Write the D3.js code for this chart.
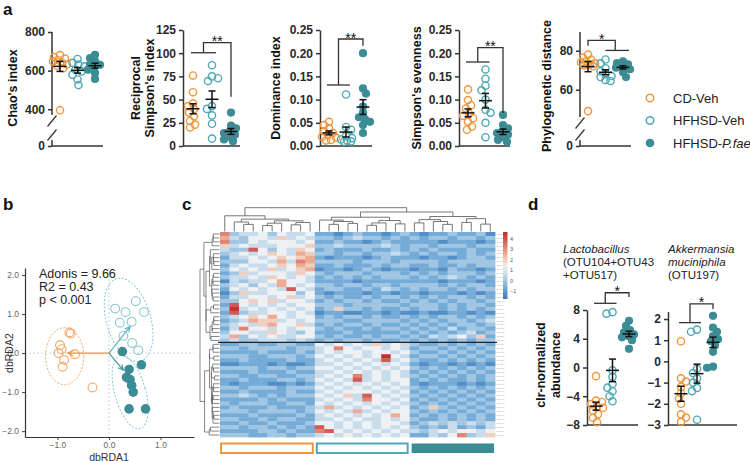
<!DOCTYPE html>
<html>
<head>
<meta charset="utf-8">
<script src="https://cdn.jsdelivr.net/npm/d3@7"></script>
<style>
body { margin: 0; background: #fff; }
svg text { font-family: "Liberation Sans", Arial, sans-serif; }
</style>
</head>
<body>
<svg width="750" height="461"></svg>
<script>
// ---------- data ----------
var groups = ["CD-Veh", "HFHSD-Veh", "HFHSD-P.fae"];

// panel a: alpha diversity (CD-Veh, HFHSD-Veh, HFHSD-P.fae)
var chaoVals = [
    [680, 670, 662, 655, 648, 640, 632, 625, 612, 395],
    [660, 640, 631, 622, 605, 596, 579, 554, 525],
    [682, 665, 648, 631, 630, 622, 605, 588, 557]
];
var recipVals = [
    [76, 58, 46, 43, 40, 36, 32, 27, 23, 20],
    [87, 75, 73, 70, 43, 40, 33, 24, 8],
    [36, 22, 19, 16, 14, 12, 10, 7, 5]
];
var domVals = [
    [0.052, 0.045, 0.038, 0.032, 0.028, 0.024, 0.020, 0.018, 0.013, 0.012],
    [0.111, 0.041, 0.035, 0.022, 0.017, 0.014, 0.012, 0.010, 0.009],
    [0.200, 0.124, 0.113, 0.085, 0.072, 0.062, 0.058, 0.052, 0.045, 0.028]
];
var evenVals = [
    [0.122, 0.099, 0.088, 0.081, 0.070, 0.065, 0.060, 0.052, 0.042, 0.035],
    [0.165, 0.145, 0.130, 0.120, 0.100, 0.078, 0.072, 0.050, 0.019],
    [0.067, 0.045, 0.038, 0.032, 0.028, 0.025, 0.019, 0.013, 0.009]
];
var phyloVals = [
    [78, 76.5, 75.5, 74.5, 74, 73.5, 73, 72.5, 72, 49],
    [75.5, 73.5, 71, 69.5, 68, 67, 66.5, 65, 64.5],
    [74.5, 73.7, 73, 72.5, 72, 71.3, 70.5, 69, 66.5]
];

// panel b: dbRDA scores
var cdPts = [[-0.77, 0.53], [-0.74, 0.50], [-0.95, 0.20], [-0.92, 0.10], [-0.98, 0.00],
             [-0.87, -0.18], [-0.66, -0.03], [-0.90, -0.35], [-0.32, -0.88]];
var vehPts = [[0.12, 1.14], [0.32, 1.05], [0.52, 1.33], [0.68, 1.05], [0.21, 0.78],
              [0.44, 0.80], [0.28, 0.44], [0.45, 0.26], [0.57, 0.07]];
var pfaePts = [[0.26, 0.04], [0.63, -0.30], [0.39, -0.42], [0.34, -0.62], [0.41, -0.68],
               [0.44, -0.83], [0.47, -1.00], [0.39, -1.43], [0.71, -1.43]];
var arrowEnds = [[-0.80, 0.00], [0.41, 0.68], [0.28, -0.44]];
// group ellipses: centre, semi-axes (data units), tilt (deg)
var ellipses = [
    {cx: -0.86, cy: -0.08, rx: 0.37, ry: 0.73, angle: 0},
    {cx: 0.38, cy: 0.85, rx: 0.43, ry: 1.10, angle: -16},
    {cx: 0.41, cy: -1.00, rx: 0.30, ry: 0.97, angle: -15.5}
];
var statLines = ["Adonis = 9.66", "R2 = 0.43", "p < 0.001"];

// panel c: scaled abundance, one string per OTU row, one digit per sample
// digit d -> value -1.3 + 0.65*d ; blocks: CD-Veh | HFHSD-Veh | HFHSD-P.fae
var heatTop = [
    "7233424334 1101211012 101121120",
    "6324435343 2212322121 212212212",
    "7224344434 1121101211 111011101",
    "5343334445 2232222321 221222122",
    "3228424354 1211121121 212111211",
    "2343454365 2212212232 121221212",
    "1334345456 1011101211 101101221",
    "2224436376 2222122212 222122222",
    "1343345465 1121112122 112112122",
    "2434353456 0110121011 011021101",
    "1253444354 2122212221 212122212",
    "2334354343 1212121222 121232121",
    "0323346443 1111011111 111011101",
    "2342436434 2212212212 222121221",
    "1434343843 1221121321 212212122",
    "0253344424 1011101101 101110101",
    "1334434534 2121121221 212122121",
    "2245453443 1212212112 121212212",
    "1843434344 2221222221 222121221",
    "2934343434 1252212112 122121212",
    "1823344343 0110011010 010011010",
    "2345464344 1212212112 121221212",
    "1236553434 2221122221 212122123",
    "2343564453 1212212112 121212212",
    "1374434344 2121121221 212131221",
    "2443354324 1112111112 121212312",
    "3624343344 2121121221 213234251",
    "2322333232 1212212112 121212122"
];
var heatBottom = [
    "1122112211 4343435343 211212121",
    "2212222122 3474344343 122121212",
    "1111211121 3434434434 211212121",
    "2221122212 4343434943 122121212",
    "1121111211 3434343834 211212121",
    "0011101001 3343434343 101101010",
    "2222122122 4434343434 212121212",
    "1112111211 3343434343 121212121",
    "2211221122 3434734343 212121212",
    "1121112212 4343834344 121211212",
    "1011100101 3434343434 101110101",
    "2212221222 4343434343 212121212",
    "1121111211 3434443434 121212121",
    "2232121222 4345384343 212121212",
    "1111212111 3434374434 121212121",
    "2122211221 4343434343 212121212",
    "1211121112 3634343434 125212121",
    "2221222212 4343634344 212121212",
    "1112111121 3434343464 121212121",
    "2211212211 3343433434 211212121",
    "1121121112 4434343443 123232323",
    "2212212121 8434343434 212131213",
    "1111221211 7843434343 323434434",
    "2221122122 3434343434 113247235"
];
// column dendrogram: [height, left, right], leaves are sample indices
var colTree = [10,
    [6.6, 0, [5.2, [4, 1, [3, 2, 3]], [4.5, [3.5, [2.5, 4, 5], 6], [3.8, [2.8, 7, 8], 9]]]],
    [8.2,
        [6, [4.8, 10, [4.2, [3, 11, 12], [3.4, 13, 14]]], [4.6, [3.6, [2.6, 15, 16], 17], [3.2, 18, 19]]],
        [6.3, [5, [3.6, 20, 21], [4.2, 22, [3, 23, 24]]], [5.4, [3.8, 25, 26], [3.1, 27, 28]]]]];
var colorbarTicks = [4, 3, 2, 1, 0, -1];

// panel d: clr-normalized abundance
var lactoVals = [
    [-1.2, -4.6, -4.8, -5.1, -5.4, -5.6, -6.0, -6.5, -7.0, -7.6],
    [7.7, 7.5, -0.4, -1.3, -2.3, -2.8, -3.3, -4.0, -4.7],
    [6.5, 5.8, 5.2, 4.9, 4.6, 4.4, 4.2, 3.8, 2.6]
];
var akkVals = [
    [0.95, -0.8, -0.95, -1.2, -1.5, -1.75, -2.0, -2.5, -2.65, -2.85],
    [1.5, 1.4, -0.35, -0.55, -0.8, -1.0, -1.25, -1.4, -2.75],
    [2.15, 1.6, 1.4, 1.2, 1.05, 0.95, 0.75, 0.45, -0.25, -0.3]
];

// ---------- setup ----------
var svg = d3.select("svg");
var colors = ["#F0963C", "#4EA8B4", "#3B8C94"];
var lightColors = ["#F3A766", "#86C9D1", "#3B8C94"];
var ink = "#2a2a2a";

// panel letters
[["a", 3, 15], ["b", 3, 210], ["c", 182, 210], ["d", 528, 210]].forEach(function(p) {
    svg.append("text").attr("x", p[1]).attr("y", p[2]).text(p[0])
        .attr("font-size", 17).attr("font-weight", "bold").attr("fill", "#111");
});

// simple deterministic beeswarm: place points top-down, nudge sideways on collision,
// keeping them inside a narrow band around the group centre
function swarm(pys, cx, minD, maxOff) {
    var placed = [];
    pys.slice().sort(function(a, b) { return a - b; }).forEach(function(py) {
        var offs = [0];
        var sgn = placed.length % 2 ? -1 : 1;
        for (var k = 1; k <= maxOff; k++) { offs.push(sgn * k, -sgn * k); }
        var bestX = cx, bestD = -1;
        for (var j = 0; j < offs.length; j++) {
            var x = cx + offs[j];
            var dmin = d3.min(placed, function(q) { return Math.hypot(q.x - x, q.y - py); });
            if (dmin === undefined || dmin >= minD) { bestX = x; bestD = Infinity; break; }
            if (dmin > bestD) { bestD = dmin; bestX = x; }
        }
        placed.push({x: bestX, y: py});
    });
    return placed;
}

function drawDotPlot(cfg) {
    var g = svg.append("g");
    var y = d3.scaleLinear().domain(cfg.dom).range(cfg.rng);
    var gx = d3.scalePoint().domain([0, 1, 2]).range([cfg.ax + cfg.gx[0], cfg.ax + cfg.gx[1]]);
    var yBase = cfg.rng[0];

    // y axis
    var axis = d3.axisLeft(y).tickValues(cfg.ticks).tickFormat(cfg.fmt).tickSize(4).tickSizeOuter(0);
    var ag = g.append("g").attr("transform", "translate(" + cfg.ax + ",0)").call(axis);
    ag.attr("font-size", 12).attr("font-weight", "bold").attr("font-family", null);
    ag.selectAll("text").attr("fill", ink);
    ag.selectAll("line").attr("stroke", "#333").attr("stroke-width", 1.5);
    ag.select(".domain").attr("stroke", "#333").attr("stroke-width", 1.5);
    if (cfg.brk) {
        // broken axis: two segments and slashes
        ag.select(".domain").remove();
        g.append("line").attr("x1", cfg.ax).attr("x2", cfg.ax).attr("y1", cfg.rng[cfg.rng.length - 1]).attr("y2", cfg.brk[0])
            .attr("stroke", "#333").attr("stroke-width", 1.5);
        g.append("line").attr("x1", cfg.ax).attr("x2", cfg.ax).attr("y1", cfg.brk[1]).attr("y2", yBase)
            .attr("stroke", "#333").attr("stroke-width", 1.5);
        [cfg.brk[0] + 6, cfg.brk[1] - 5].forEach(function(m) {
            g.append("line").attr("x1", cfg.ax - 4.5).attr("x2", cfg.ax + 4.5).attr("y1", m + 5.5).attr("y2", m - 5.5)
                .attr("stroke", "#333").attr("stroke-width", 1.2);
        });
    }
    // x axis line
    g.append("line").attr("x1", cfg.ax).attr("x2", cfg.ax + cfg.len).attr("y1", yBase).attr("y2", yBase)
        .attr("stroke", "#333").attr("stroke-width", 1.5);

    // axis title (rotated, one or more lines)
    cfg.title.forEach(function(t, i) {
        g.append("text").attr("transform", "translate(" + cfg.tx[i] + "," + cfg.ty + ") rotate(-90)")
            .attr("text-anchor", "middle").attr("font-size", 12.5).attr("font-weight", "bold")
            .attr("fill", "#111").text(t);
    });

    // points
    cfg.vals.forEach(function(vals, gi) {
        var pts = swarm(vals.map(y), gx(gi), 5.6, 7);
        g.selectAll(null).data(pts).enter().append("circle")
            .attr("cx", function(d) { return d.x; })
            .attr("cy", function(d) { return d.y; })
            .attr("r", gi == 2 ? 4.1 : 3.6)
            .attr("fill", gi == 2 ? colors[2] : "none")
            .attr("stroke", gi == 2 ? "none" : colors[gi])
            .attr("stroke-width", 1.4);
    });

    // mean +- SEM
    cfg.vals.forEach(function(vals, gi) {
        var m = d3.mean(vals), se = d3.deviation(vals) / Math.sqrt(vals.length);
        var cx = gx(gi);
        var eg = g.append("g").attr("stroke", "#111").attr("stroke-width", 1.5);
        eg.append("line").attr("x1", cx - 6.5).attr("x2", cx + 6.5).attr("y1", y(m)).attr("y2", y(m));
        eg.append("line").attr("x1", cx).attr("x2", cx).attr("y1", y(m - se)).attr("y2", y(m + se));
        [m - se, m + se].forEach(function(v) {
            eg.append("line").attr("x1", cx - 3.5).attr("x2", cx + 3.5).attr("y1", y(v)).attr("y2", y(v));
        });
    });

    // significance bracket
    if (cfg.br) {
        var br = cfg.br, x0 = gx(0), x1 = gx(1), x2 = gx(2), mid, far, d;
        if (br.single == 2) {
            mid = (x0 + x1) / 2 + 1; far = x2;
            g.append("line").attr("x1", x0 - 2).attr("x2", x1 + 4).attr("y1", y(br.bar)).attr("y2", y(br.bar))
                .attr("stroke", "#333").attr("stroke-width", 1.3);
        } else {
            mid = (x1 + x2) / 2 + 1; far = x0;
            g.append("line").attr("x1", x1).attr("x2", x2 + 6).attr("y1", y(br.bar)).attr("y2", y(br.bar))
                .attr("stroke", "#333").attr("stroke-width", 1.3);
        }
        d = "M" + mid + "," + y(br.bar) + "V" + y(br.top) + "H" + far + "V" + y(br.end);
        g.append("path").attr("d", d).attr("fill", "none").attr("stroke", "#333").attr("stroke-width", 1.3);
        g.append("text").attr("x", (mid + far) / 2).attr("y", y(br.top) + 3.5)
            .attr("text-anchor", "middle").attr("font-size", 14).attr("fill", "#111").text(br.stars);
    }
}

// ---------- panel a ----------
var aPlots = [
    {ax: 52, len: 51, gx: [8, 43], vals: chaoVals, dom: [0, 1, 370, 800], rng: [146, 140, 115, 32],
     ticks: [0, 400, 600, 800], fmt: d3.format("d"), brk: [115, 140], title: ["Chao's index"], tx: [16.5], ty: 88},
    {ax: 183, len: 57, gx: [10, 48], vals: recipVals, dom: [0, 125], rng: [146, 30],
     ticks: [0, 25, 50, 75, 100, 125], fmt: d3.format("d"), title: ["Reciprocal", "Simpson's index"], tx: [139.5, 153.5], ty: 88,
     br: {single: 2, bar: 100.5, top: 111.3, end: 53, stars: "**"}},
    {ax: 320, len: 52, gx: [9, 43], vals: domVals, dom: [0, 0.25], rng: [146, 30],
     ticks: [0, 0.05, 0.1, 0.15, 0.2, 0.25], fmt: d3.format(".2f"), title: ["Dominance index"], tx: [279.5], ty: 88,
     br: {single: 2, bar: 0.1315, top: 0.2306, end: 0.216, stars: "**"}},
    {ax: 459, len: 51, gx: [9, 44], vals: evenVals, dom: [0, 0.25], rng: [146, 30],
     ticks: [0, 0.05, 0.1, 0.15, 0.2, 0.25], fmt: d3.format(".2f"), title: ["Simpson's evenness"], tx: [421], ty: 88,
     br: {single: 2, bar: 0.181, top: 0.212, end: 0.071, stars: "**"}},
    {ax: 580, len: 51, gx: [8, 43], vals: phyloVals, dom: [0, 1, 46, 89.6], rng: [146, 140, 117, 32],
     ticks: [0, 60, 80], fmt: d3.format("d"), brk: [117, 140], title: ["Phylogenetic distance"], tx: [551], ty: 86,
     br: {single: 0, bar: 80.15, top: 85.3, end: 82.6, stars: "*"}}
];
aPlots.forEach(drawDotPlot);

// legend
var legend = svg.append("g").attr("transform", "translate(650,98)");
groups.forEach(function(name, i) {
    var row = legend.append("g").attr("transform", "translate(0," + (i * 22.5) + ")");
    row.append("circle").attr("r", i == 2 ? 4.3 : 3.8)
        .attr("fill", i == 2 ? colors[2] : "none").attr("stroke", i == 2 ? "none" : colors[i]).attr("stroke-width", 1.5);
    var t = row.append("text").attr("x", 23).attr("y", 4.5).attr("font-size", 13).attr("fill", "#222");
    if (i == 2) {
        t.append("tspan").text("HFHSD-");
        t.append("tspan").attr("font-style", "italic").text("P.fae");
    } else {
        t.text(name);
    }
});

// ---------- panel b ----------
var bg = svg.append("g");
var bx = d3.scaleLinear().domain([-1.63, 1.65]).range([25, 194]);
var by = d3.scaleLinear().domain([-2.15, 2.18]).range([437, 268]);

bg.append("line").attr("x1", bx(0)).attr("x2", bx(0)).attr("y1", 268).attr("y2", 437)
    .attr("stroke", "#C8D8DE").attr("stroke-dasharray", "2,2");
bg.append("line").attr("x1", 25).attr("x2", 194).attr("y1", by(0)).attr("y2", by(0))
    .attr("stroke", "#C8D8DE").attr("stroke-dasharray", "2,2");

var bxAxis = bg.append("g").attr("transform", "translate(0,437)")
    .call(d3.axisBottom(bx).tickValues([-1, 0, 1]).tickSize(3).tickPadding(1.5).tickSizeOuter(0));
var byAxis = bg.append("g").attr("transform", "translate(25,0)")
    .call(d3.axisLeft(by).tickValues([-2, -1, 0, 1, 2]).tickSize(3).tickSizeOuter(0));
[bxAxis, byAxis].forEach(function(a) {
    a.attr("font-size", 8.5).attr("font-family", null);
    a.selectAll("text").attr("fill", "#666");
    a.selectAll("line").attr("stroke", "#444");
    a.select(".domain").attr("stroke", "#333").attr("stroke-width", 1.2);
});
bg.append("text").attr("x", bx(0)).attr("y", 460.5).attr("text-anchor", "middle")
    .attr("font-size", 10.5).attr("fill", "#333").text("dbRDA1");
bg.append("text").attr("transform", "translate(13," + by(0) + ") rotate(-90)").attr("text-anchor", "middle")
    .attr("font-size", 10.5).attr("fill", "#333").text("dbRDA2");

var kx = bx(1) - bx(0), ky = by(0) - by(1);
var ellipseColors = ["#F3A766", "#86C9D1", "#86C9D1"];
ellipses.forEach(function(e, i) {
    bg.append("ellipse")
        .attr("transform", "translate(" + bx(e.cx) + "," + by(e.cy) + ") rotate(" + e.angle + ")")
        .attr("rx", e.rx * kx).attr("ry", e.ry * ky)
        .attr("fill", "none").attr("stroke", ellipseColors[i]).attr("stroke-width", 1)
        .attr("stroke-dasharray", "2,1.6");
});

[cdPts, vehPts, pfaePts].forEach(function(pts, gi) {
    bg.selectAll(null).data(pts).enter().append("circle")
        .attr("cx", function(d) { return bx(d[0]); })
        .attr("cy", function(d) { return by(d[1]); })
        .attr("r", gi == 2 ? 4.8 : 4.4)
        .attr("fill", gi == 2 ? colors[2] : "none")
        .attr("stroke", gi == 2 ? "none" : lightColors[gi])
        .attr("stroke-width", 1.1);
});

var arrowColors = ["#F0963C", "#5FB3BE", "#4E9BA3"];
arrowEnds.forEach(function(p, i) {
    var x0 = bx(0), y0 = by(0), x1 = bx(p[0]), y1 = by(p[1]);
    var ang = Math.atan2(y1 - y0, x1 - x0);
    var head = [ang + Math.PI - 0.45, ang + Math.PI + 0.45].map(function(a) {
        return [x1 + 6 * Math.cos(a), y1 + 6 * Math.sin(a)];
    });
    bg.append("path")
        .attr("d", "M" + x0 + "," + y0 + "L" + x1 + "," + y1 +
            "M" + head[0] + "L" + x1 + "," + y1 + "L" + head[1])
        .attr("fill", "none").attr("stroke", arrowColors[i]).attr("stroke-width", 1.2);
});

statLines.forEach(function(t, i) {
    bg.append("text").attr("x", 39).attr("y", 278 + i * 13).attr("font-size", 12.5).attr("fill", "#222").text(t);
});

// ---------- panel c: heatmap ----------
var cg = svg.append("g");
var heatRows = heatTop.concat(heatBottom).map(function(s) {
    return s.replace(/ /g, "").split("").map(function(c) { return -1.3 + 0.65 * (+c); });
});
var nCol = heatRows[0].length;
var hx = d3.scaleBand().domain(d3.range(nCol)).range([220, 495]);
var hy = d3.scaleBand().domain(d3.range(heatRows.length)).range([232, 437]);
var heatColor = d3.scaleLinear()
    .domain([-1.7, -0.7, 0.2, 1.3, 2.4, 4.7])
    .range(["#3F7DBB", "#72A9D6", "#ADCEE7", "#EEF1F3", "#F2B79E", "#C3272B"])
    .clamp(true);

heatRows.forEach(function(row, ri) {
    cg.selectAll(null).data(row).enter().append("rect")
        .attr("x", function(d, ci) { return hx(ci); })
        .attr("y", hy(ri))
        .attr("width", hx.bandwidth() + 0.4)
        .attr("height", hy.bandwidth() + 0.4)
        .attr("fill", function(d) { return heatColor(d); });
});

// gap line between the two row clusters
cg.append("line").attr("x1", 218).attr("x2", 497)
    .attr("y1", hy(heatTop.length)).attr("y2", hy(heatTop.length))
    .attr("stroke", "#222").attr("stroke-width", 1.3);

// row dendrogram: adjacent-merge clustering of the rows (order kept)
function clusterRows(ids) {
    var nodes = ids.map(function(i) {
        return {y: hy(i) + hy.bandwidth() / 2, h: 0, v: heatRows[i].slice(), n: 1};
    });
    var segs = [];
    while (nodes.length > 1) {
        var best = 0, bd = Infinity;
        for (var k = 0; k < nodes.length - 1; k++) {
            var a0 = nodes[k], b0 = nodes[k + 1];
            var d = Math.sqrt(d3.sum(a0.v, function(x, j) { return (x - b0.v[j]) * (x - b0.v[j]); }));
            d = d * Math.sqrt(2 * a0.n * b0.n / (a0.n + b0.n));
            if (d < bd) { bd = d; best = k; }
        }
        var a = nodes[best], b = nodes[best + 1];
        var h = Math.max(bd, a.h, b.h);
        segs.push({a: a, b: b, h: h});
        var m = {y: (a.y + b.y) / 2, h: h, n: a.n + b.n,
                 v: a.v.map(function(x, j) { return (x * a.n + b.v[j] * b.n) / (a.n + b.n); })};
        nodes.splice(best, 2, m);
    }
    return {root: nodes[0], segs: segs};
}
var topTree = clusterRows(d3.range(0, heatTop.length));
var botTree = clusterRows(d3.range(heatTop.length, heatRows.length));
var rootH = Math.max(topTree.root.h, botTree.root.h) * 1.25;
var allSegs = topTree.segs.concat(botTree.segs, [{a: topTree.root, b: botTree.root, h: rootH}]);
var rx = d3.scaleLinear().domain([0, rootH]).range([219.5, 200]);
cg.selectAll(null).data(allSegs).enter().append("path")
    .attr("d", function(s) {
        return "M" + rx(s.a.h) + "," + s.a.y + "H" + rx(s.h) + "V" + s.b.y + "H" + rx(s.b.h);
    })
    .attr("fill", "none").attr("stroke", "#555").attr("stroke-width", 0.7);

// column dendrogram
var cy = d3.scaleLinear().domain([0, 10]).range([231.5, 207.7]);
function drawCol(node) {
    if (typeof node === "number") return {x: hx(node) + hx.bandwidth() / 2, h: 0};
    var l = drawCol(node[1]), r = drawCol(node[2]);
    cg.append("path")
        .attr("d", "M" + l.x + "," + cy(l.h) + "V" + cy(node[0]) + "H" + r.x + "V" + cy(r.h))
        .attr("fill", "none").attr("stroke", "#666").attr("stroke-width", 0.9);
    return {x: (l.x + r.x) / 2, h: node[0]};
}
drawCol(colTree);

// tiny row labels
cg.selectAll(null).data(heatRows).enter().append("text")
    .attr("x", 496.5).attr("y", function(d, i) { return hy(i) + hy.bandwidth() / 2 + 0.8; })
    .attr("font-size", 2.4).attr("fill", "#aaa")
    .text(function(d, i) { return "OTU" + (i + 1); });

// colour bar
var cbScale = d3.scaleLinear().domain([-1.75, 4.7]).range([299, 232]);
var grad = svg.append("defs").append("linearGradient").attr("id", "cbar")
    .attr("x1", 0).attr("x2", 0).attr("y1", 1).attr("y2", 0);
d3.range(0, 1.0001, 0.05).forEach(function(t) {
    var v = -1.75 + t * 6.45;
    grad.append("stop").attr("offset", t).attr("stop-color", heatColor(v));
});
cg.append("rect").attr("x", 503).attr("y", 232).attr("width", 4.5).attr("height", 67).attr("fill", "url(#cbar)");
colorbarTicks.forEach(function(v) {
    cg.append("text").attr("x", 510).attr("y", cbScale(v) + 1.8).attr("font-size", 5.5).attr("fill", "#555")
        .text(v < 0 ? "\u2212" + Math.abs(v) : v);
});

// group annotation bars under the heatmap
var blocks = [[0, 9], [10, 19], [20, 28]];
blocks.forEach(function(b, i) {
    var x0 = hx(b[0]) + (i == 0 ? 0 : 1), x1 = hx(b[1]) + hx.bandwidth() - (i == 2 ? 0 : 1);
    cg.append("rect").attr("x", x0 + 1).attr("y", 443.5).attr("width", x1 - x0 - 2).attr("height", 9.5)
        .attr("fill", i == 2 ? colors[2] : "none")
        .attr("stroke", i == 2 ? "none" : colors[i]).attr("stroke-width", 2);
});

// ---------- panel d ----------
var dPlots = [
    {ax: 587, len: 51, gx: [9, 42], vals: lactoVals, dom: [-8, 8], rng: [425, 310],
     ticks: [-8, -4, 0, 4, 8], fmt: d3.format("d"), title: ["clr-normalized", "abundance"], tx: [544.5, 559.5], ty: 365,
     br: {single: 2, bar: 8.93, top: 10.4, end: 9.8, stars: "*"}},
    {ax: 668, len: 69, gx: [13, 45], vals: akkVals, dom: [-3, 2.35], rng: [425, 311.6],
     ticks: [-3, -2, -1, 0, 1, 2], fmt: d3.format("d"), title: [], tx: [], ty: 0,
     br: {single: 2, bar: 1.83, top: 2.71, end: 2.47, stars: "*"}}
];
dPlots.forEach(drawDotPlot);

var dTitles = [
    {x: 563, lines: [["Lactobacillus", true], ["(OTU104+OTU43", false], ["+OTU517)", false]]},
    {x: 668, lines: [["Akkermansia", true], ["muciniphila", true], ["(OTU197)", false]]}
];
dTitles.forEach(function(t) {
    t.lines.forEach(function(l, i) {
        svg.append("text").attr("x", t.x).attr("y", 253 + i * 13).attr("font-size", 11.5)
            .attr("font-style", l[1] ? "italic" : "normal").attr("fill", "#222").text(l[0]);
    });
});
</script>
</body>
</html>
